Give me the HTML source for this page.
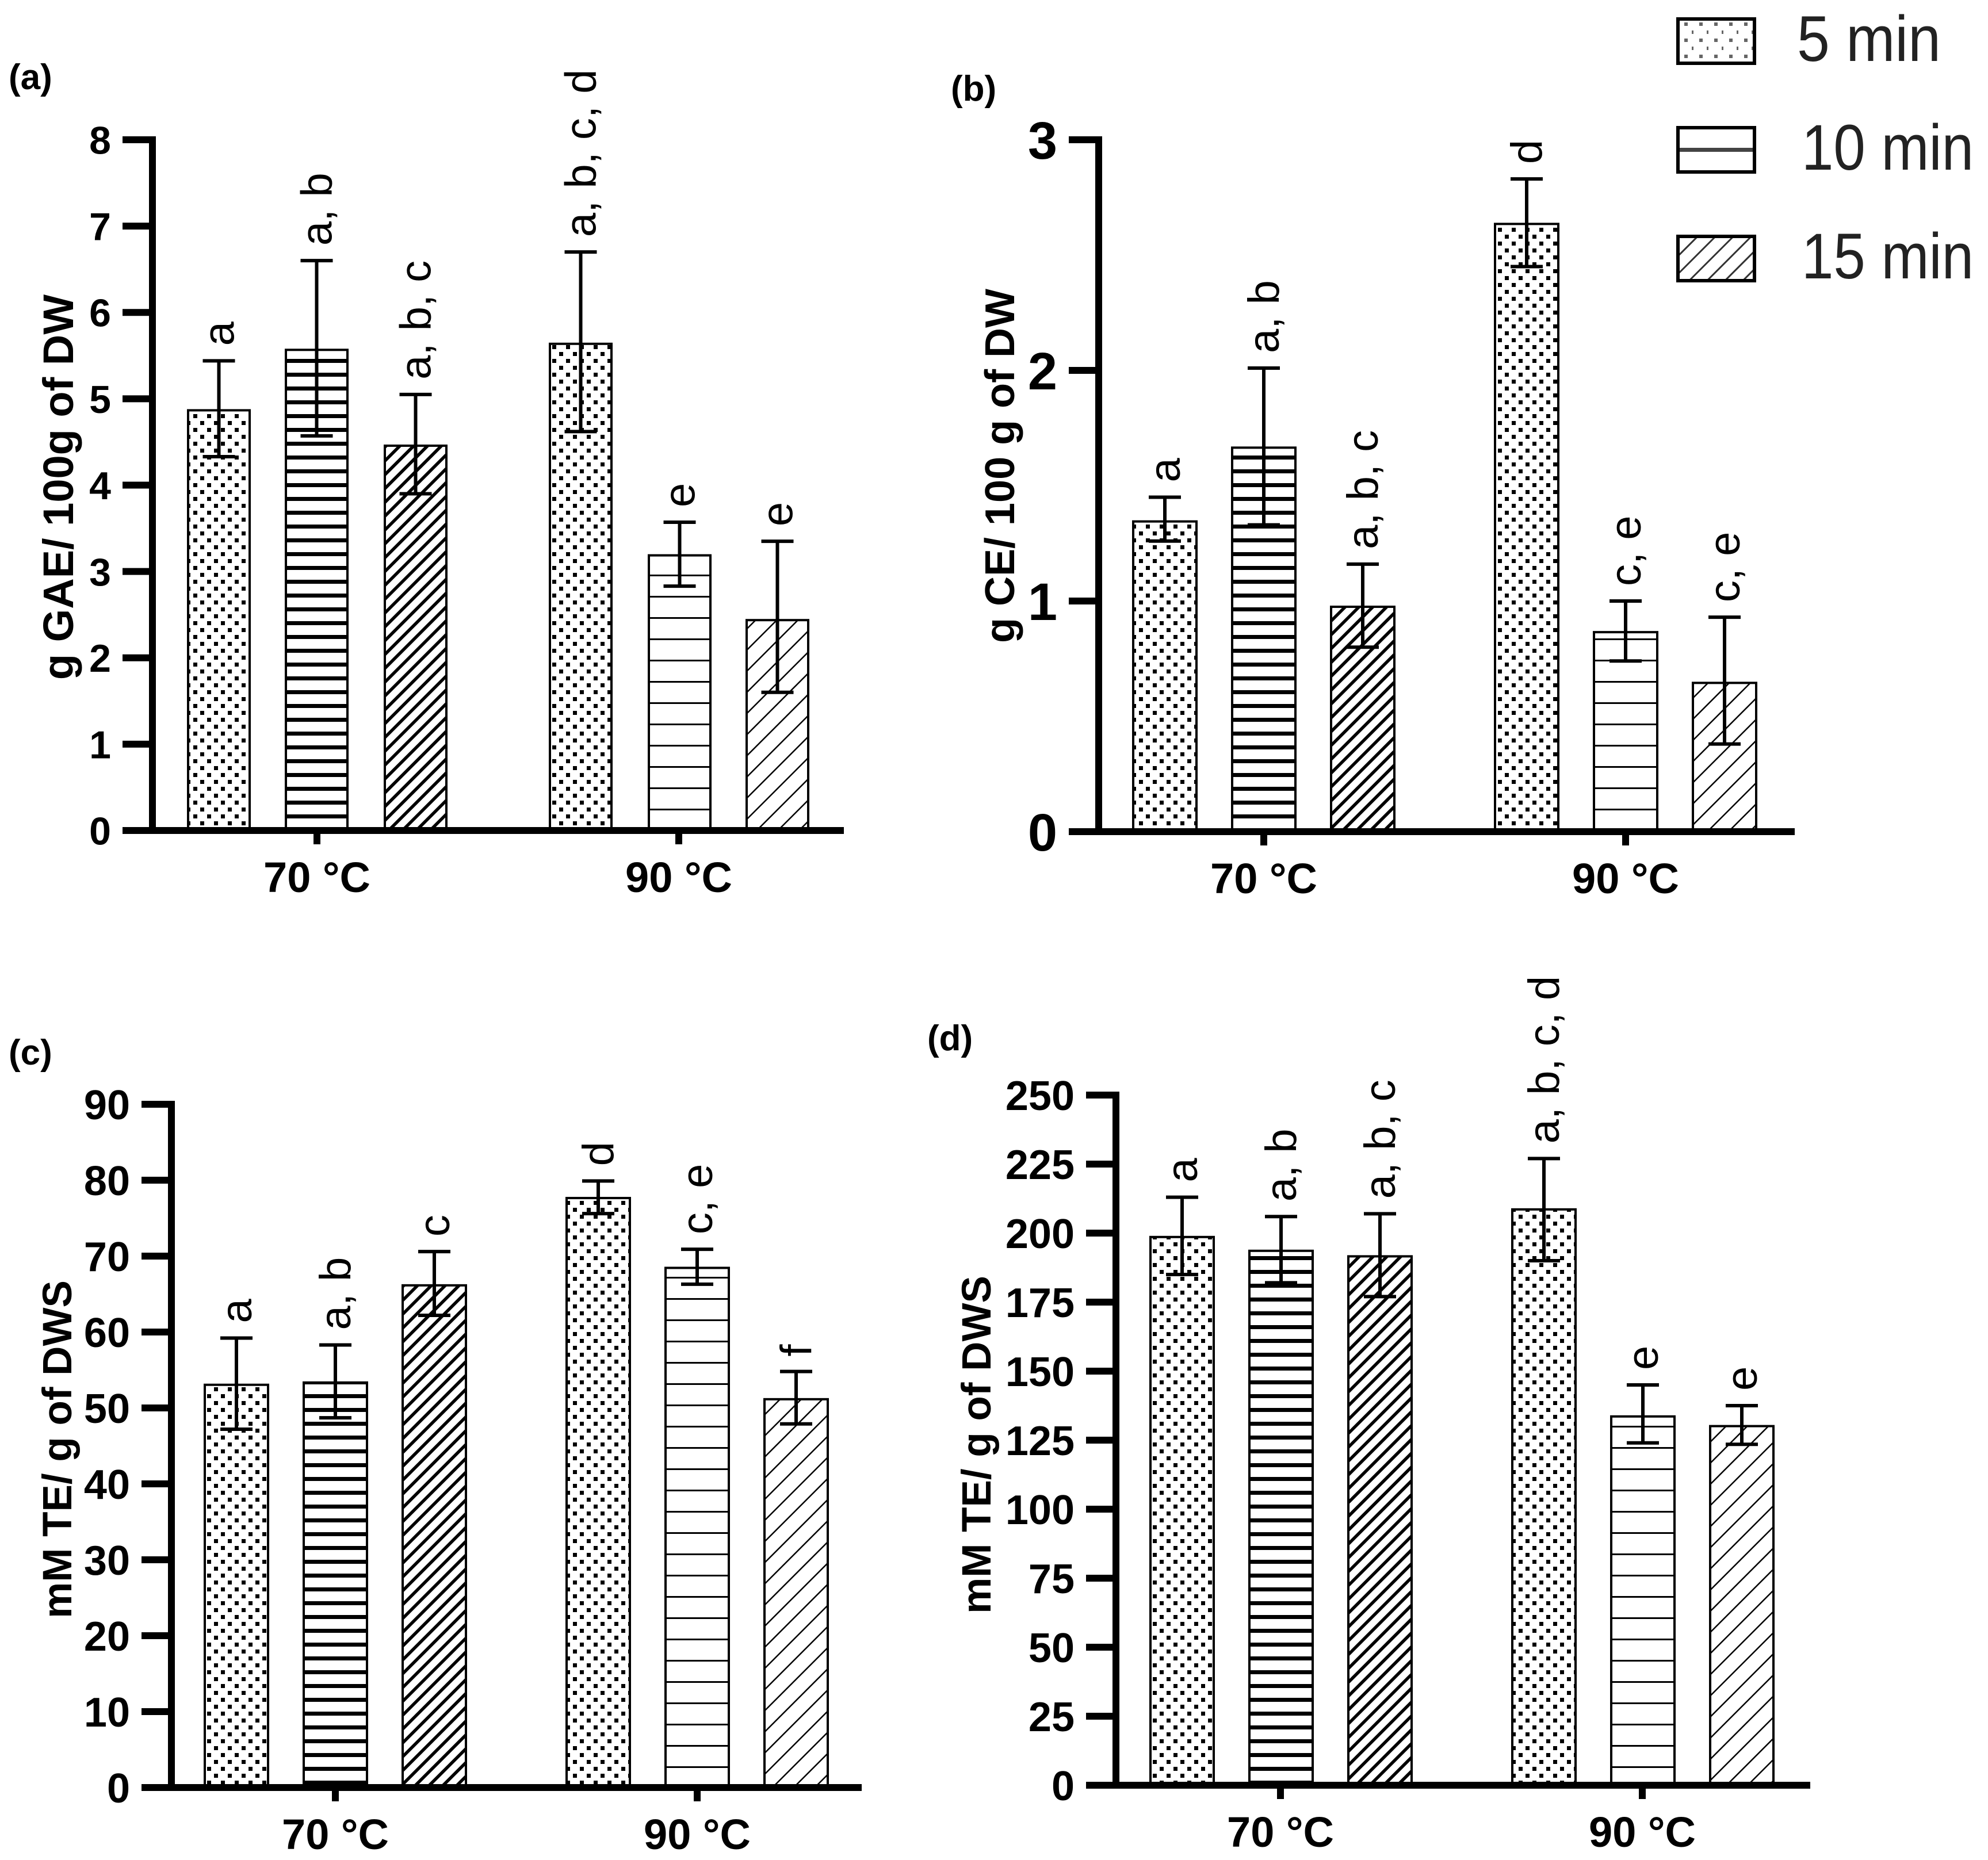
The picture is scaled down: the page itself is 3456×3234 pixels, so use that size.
<!DOCTYPE html>
<html><head><meta charset="utf-8">
<style>
html,body{margin:0;padding:0;background:#fff;}
svg{display:block;}
text{font-family:"Liberation Sans",Arial,sans-serif;}
</style></head>
<body>
<svg id="fig" xmlns="http://www.w3.org/2000/svg" width="3456" height="3234" viewBox="0 0 3456 3234">
<defs>
  <pattern id="dots" patternUnits="userSpaceOnUse" width="24" height="24">
    <rect x="0" y="0" width="7" height="7" fill="#000"/><rect x="12" y="12" width="7" height="7" fill="#000"/>
  </pattern>
  <pattern id="hthick" patternUnits="userSpaceOnUse" width="24" height="24">
    <rect x="0" y="0" width="24" height="7" fill="#000"/>
  </pattern>
  <pattern id="hthin" patternUnits="userSpaceOnUse" width="37" height="37">
    <rect x="0" y="0" width="37" height="3" fill="#000"/>
  </pattern>
  <pattern id="dthick" patternUnits="userSpaceOnUse" width="17" height="17" patternTransform="rotate(-45)">
    <rect x="0" y="0" width="17" height="5.5" fill="#000"/>
  </pattern>
  <pattern id="dthin" patternUnits="userSpaceOnUse" width="26" height="26" patternTransform="rotate(-45)">
    <rect x="0" y="0" width="26" height="2.5" fill="#000"/>
  </pattern>
  <pattern id="ldots" patternUnits="userSpaceOnUse" width="26" height="28" x="2918" y="34">
    <rect x="10" y="5" width="6" height="6" fill="#666"/><rect x="23" y="19" width="6" height="6" fill="#666"/>
  </pattern>
  <pattern id="ldiag" patternUnits="userSpaceOnUse" width="22" height="22" patternTransform="rotate(-45)">
    <rect x="0" y="0" width="22" height="3" fill="#333"/>
  </pattern>
</defs>
<g id="root"></g>
</svg>
<script>
// ---- panel (a) data ----
const catsA = ["70 °C", "90 °C"];
const valsA = [4.88, 5.58, 4.47, 5.65, 3.20, 2.45];
const loA = [4.33, 4.57, 3.90, 4.62, 2.83, 1.60];
const hiA = [5.44, 6.60, 5.05, 6.70, 3.57, 3.35];
const letA = ["a", "a, b", "a, b, c", "a, b, c, d", "e", "e"];
const ticksA = ["0","1","2","3","4","5","6","7","8"];
// ---- panel (b) data ----
const catsB = ["70 °C", "90 °C"];
const valsB = [1.35, 1.67, 0.98, 2.64, 0.87, 0.65];
const loB = [1.26, 1.33, 0.80, 2.45, 0.74, 0.38];
const hiB = [1.45, 2.01, 1.16, 2.83, 1.00, 0.93];
const letB = ["a", "a, b", "a, b, c", "d", "c, e", "c, e"];
const ticksB = ["0","1","2","3"];
// ---- panel (c) data ----
const catsC = ["70 °C", "90 °C"];
const valsC = [53.2, 53.5, 66.3, 77.8, 68.6, 51.3];
const loC = [47.2, 48.7, 62.2, 75.6, 66.3, 47.9];
const hiC = [59.2, 58.3, 70.6, 79.9, 70.9, 54.8];
const letC = ["a", "a, b", "c", "d", "c, e", "f"];
const ticksC = ["0","10","20","30","40","50","60","70","80","90"];
// ---- panel (d) data ----
const catsD = ["70 °C", "90 °C"];
const valsD = [199, 194, 192, 209, 134, 130.5];
const loD = [185, 182, 177, 190, 124, 123.5];
const hiD = [213, 206, 207, 227, 145, 137.5];
const letD = ["a", "a, b", "a, b, c", "a, b, c, d", "e", "e"];
const ticksD = ["0","25","50","75","100","125","150","175","200","225","250"];
const legendLabels = ["5 min", "10 min", "15 min"];

const NS = "http://www.w3.org/2000/svg";
const root = document.getElementById("root");
function mk(tag, attrs, parent) {
  const e = document.createElementNS(NS, tag);
  for (const k in attrs) e.setAttribute(k, attrs[k]);
  (parent || root).appendChild(e);
  return e;
}
const fills = ["url(#dots)", "url(#hthick)", "url(#dthick)", "url(#dots)", "url(#hthin)", "url(#dthin)"];
const seriesNames = ["5min-70c", "10min-70c", "15min-70c", "5min-90c", "10min-90c", "15min-90c"];

function panel(cfg) {
  const g = mk("g", {});
  
  
  const max = parseFloat(cfg.ticks[cfg.ticks.length - 1]);
  const yS = v => cfg.y0 - (v / max) * (cfg.y0 - cfg.top);
  cfg.vals.forEach((v, i) => {
    const x = cfg.barX[i], y = yS(v);
    const r = mk("rect", {x: x, y: y, width: cfg.bw, height: cfg.y0 - y, fill: "#fff"}, g);
    
    
    const r2 = mk("rect", {x: x + 2, y: y + 2, width: cfg.bw - 4, height: cfg.y0 - y - 2, fill: fills[i], stroke: "#000", "stroke-width": 4}, g);
    
    
  });
  cfg.vals.forEach((v, i) => {
    const cx = cfg.barX[i] + cfg.bw / 2;
    const eb = mk("path", {d: "M" + cx + " " + yS(cfg.lo[i]) + "V" + yS(cfg.hi[i]) +
      "M" + (cx - 28) + " " + yS(cfg.lo[i]) + "H" + (cx + 28) +
      "M" + (cx - 28) + " " + yS(cfg.hi[i]) + "H" + (cx + 28),
      stroke: "#000", "stroke-width": 6, fill: "none"}, g);
    
    
    const ty = yS(cfg.hi[i]) - 26;
    const t = mk("text", {x: cx + 26, y: ty, "font-size": 76, transform: "rotate(-90 " + (cx + 26) + " " + ty + ")", fill: "#000"}, g);
    t.textContent = cfg.lets[i];
    
    
  });
  const ax = mk("path", {d: "M" + cfg.ax + " " + (cfg.top - 6) + "V" + (cfg.y0 + 6) + "M" + (cfg.ax - 52) + " " + cfg.y0 + "H" + cfg.xEnd,
    stroke: "#000", "stroke-width": 12, fill: "none"}, g);
  
  
  cfg.ticks.forEach(tk => {
    const y = yS(parseFloat(tk));
    const tl = mk("line", {x1: cfg.ax - 52, x2: cfg.ax, y1: y, y2: y, stroke: "#000", "stroke-width": 12}, g);
    
    
    const t = mk("text", {x: cfg.ax - 72, y: y + cfg.tf * 0.36, "font-size": cfg.tf, "font-weight": "bold", "text-anchor": "end"}, g);
    t.textContent = tk;
    
    
  });
  cfg.cats.forEach((c, i) => {
    const x = cfg.catX[i];
    const tl = mk("line", {x1: x, x2: x, y1: cfg.y0, y2: cfg.y0 + 24, stroke: "#000", "stroke-width": 12}, g);
    
    
    const t = mk("text", {x: x, y: cfg.y0 + 107, "font-size": 74, "font-weight": "bold", "text-anchor": "middle"}, g);
    t.textContent = c;
    
    
  });
  const tx = cfg.titleBase;
  const tt = mk("text", {x: tx, y: cfg.titleY, "font-size": cfg.titleFont, "font-weight": "bold", "text-anchor": "middle", transform: "rotate(-90 " + tx + " " + cfg.titleY + ")"}, g);
  tt.textContent = cfg.title;
  
  
  const pl = mk("text", {x: cfg.plX, y: cfg.plY + 22, "font-size": 62, "font-weight": "bold"}, g);
  pl.textContent = "(" + cfg.id + ")";
  
  
}

panel({id: "a", vals: valsA, lo: loA, hi: hiA, lets: letA, ticks: ticksA, cats: catsA,
  ax: 265, y0: 1444, top: 243, xEnd: 1467, barX: [325, 495, 667, 954, 1126, 1296], bw: 111, catX: [551, 1180], tf: 68,
  title: "g GAE/ 100g of DW", titleBase: 127, titleY: 847, titleFont: 74, plX: 15, plY: 133});
panel({id: "b", vals: valsB, lo: loB, hi: hiB, lets: letB, ticks: ticksB, cats: catsB,
  ax: 1910, y0: 1446, top: 243, xEnd: 3120, barX: [1968, 2140, 2312, 2597, 2769, 2941], bw: 114, catX: [2197, 2826], tf: 92,
  title: "g CE/ 100 g of DW", titleBase: 1763, titleY: 810, titleFont: 72, plX: 1653, plY: 153});
panel({id: "c", vals: valsC, lo: loC, hi: hiC, lets: letC, ticks: ticksC, cats: catsC,
  ax: 298, y0: 3108, top: 1920, xEnd: 1498, barX: [354, 526, 698, 983, 1155, 1327], bw: 114, catX: [583, 1212], tf: 72,
  title: "mM TE/ g of DWS", titleBase: 124, titleY: 2520, titleFont: 71, plX: 15, plY: 1829});
panel({id: "d", vals: valsD, lo: loD, hi: hiD, lets: letD, ticks: ticksD, cats: catsD,
  ax: 1940, y0: 3104, top: 1904, xEnd: 3147, barX: [1998, 2170, 2342, 2627, 2799, 2971], bw: 114, catX: [2226, 2855], tf: 72,
  title: "mM TE/ g of DWS", titleBase: 1722, titleY: 2512, titleFont: 71, plX: 1612, plY: 1804});

const lg = mk("g", {});


const legFill = ["url(#ldots)", "none", "url(#ldiag)"];
const legY = [30, 219, 408];
legendLabels.forEach((lab, i) => {
  const y = legY[i];
  const b = mk("rect", {x: 2917, y: y + 3, width: 133, height: 77, fill: "#fff", stroke: "#000", "stroke-width": 6}, lg);
  
  
  if (i !== 1) {
    const p = mk("rect", {x: 2920, y: y + 6, width: 127, height: 71, fill: legFill[i]}, lg);
    
    
  } else {
    const l = mk("rect", {x: 2920, y: y + 38, width: 127, height: 7, fill: "#444"}, lg);
    
    
  }
  const w = lab.length === 5 ? 250 : 299;
  const t = mk("text", {x: i === 0 ? 3124 : 3132, y: y + 76, "font-size": 112, fill: "#222", textLength: w, lengthAdjust: "spacingAndGlyphs"}, lg);
  t.textContent = lab;
  
  
});
</script>
</body></html>
